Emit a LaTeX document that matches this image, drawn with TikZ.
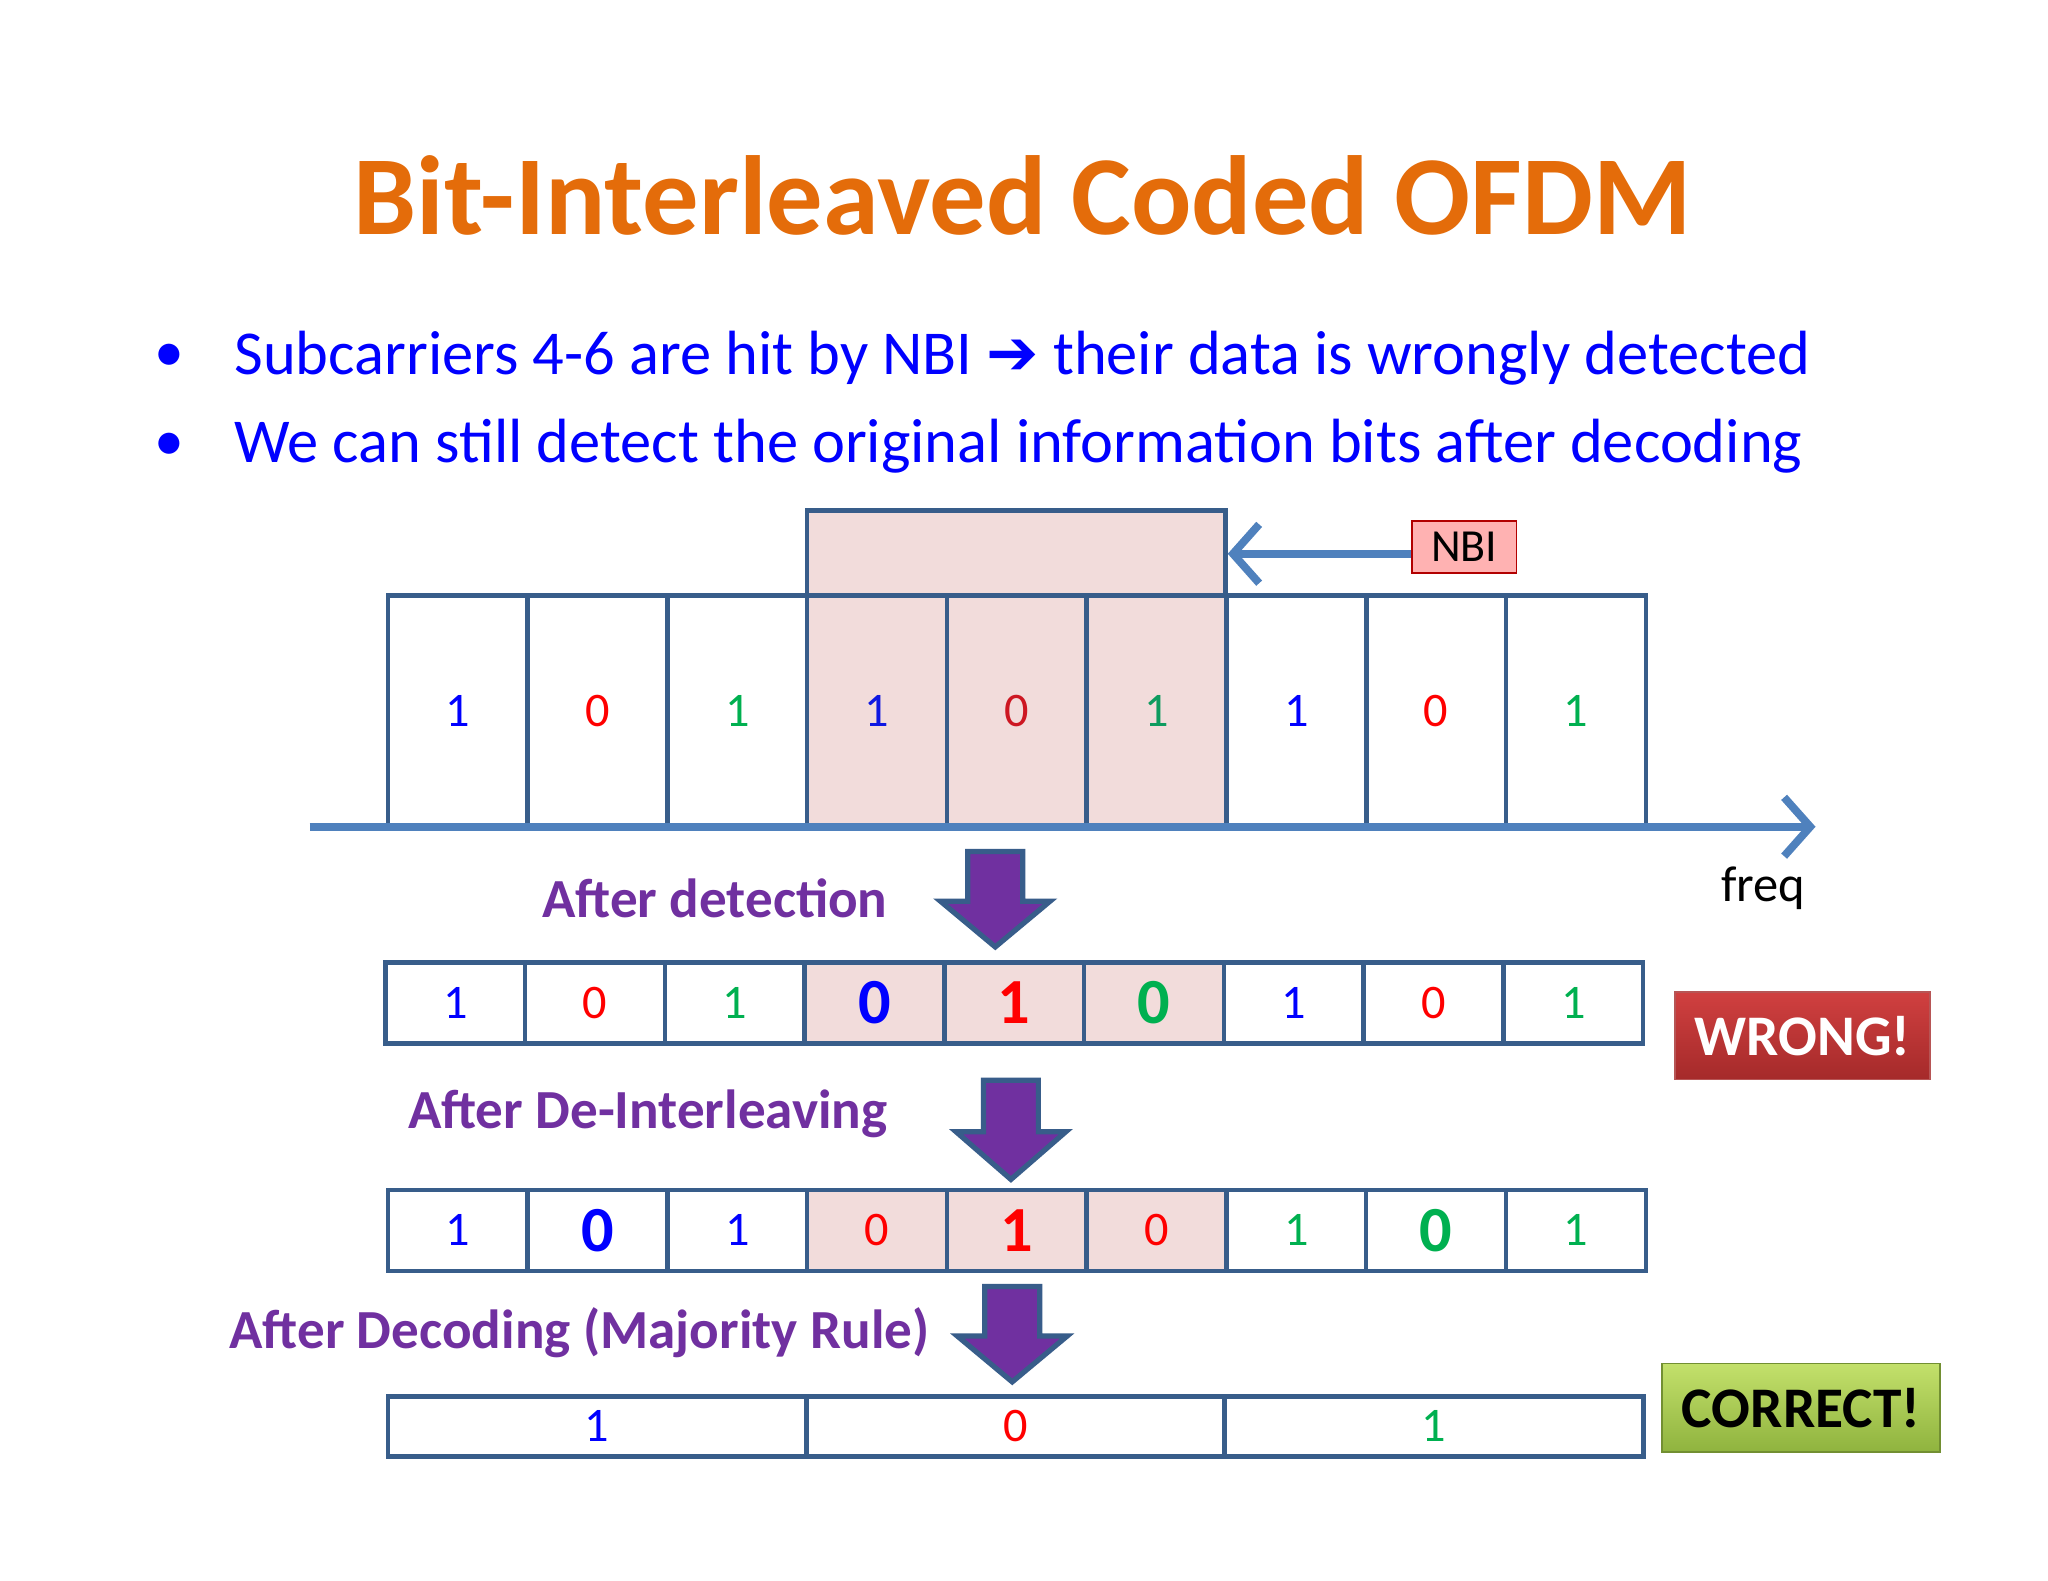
\documentclass[tikz,border=0pt]{standalone}
\usepackage{fontspec}
\setmainfont{Carlito}
\newfontfamily\djv{DejaVu Sans}
\usetikzlibrary{arrows.meta}
\definecolor{frame}{HTML}{385D8A}
\definecolor{shade}{HTML}{F2DCDB}
\definecolor{tblue}{HTML}{0000FF}
\definecolor{tred}{HTML}{FF0000}
\definecolor{tgreen}{HTML}{00B050}
\definecolor{tpurple}{HTML}{7030A0}
\definecolor{torange}{HTML}{E46C0A}
\definecolor{axis}{HTML}{4F81BD}
\definecolor{wtop}{HTML}{D04040}
\definecolor{wbot}{HTML}{A52A2A}
\definecolor{ctop}{HTML}{C3E06B}
\definecolor{cbot}{HTML}{8FB33E}
\begin{document}
\begin{tikzpicture}[x=0.01cm,y=-0.01cm,
  cell/.style={draw=frame,line width=0.35mm,minimum width=1.07cm,inner sep=0pt,outer sep=0pt,anchor=north west},
  dig/.style={font=\fontsize{10.5}{12}\selectfont},
  big/.style={font=\fontsize{14}{16}\selectfont\bfseries},
  lab/.style={text=tpurple,font=\fontsize{12}{15}\selectfont\bfseries,anchor=east},
  darrow/.style={fill=tpurple,draw=frame,line width=0.4mm},
  bul/.style={text=tblue,font=\fontsize{13.6}{16}\selectfont,anchor=west}]
\useasboundingbox (0,0) rectangle (1568,1210);
\fill[white] (0,0) rectangle (1568,1210);
\node[text=torange,font=\fontsize{24.5}{30}\selectfont\bfseries] (title) at (783,150) {Bit-Interleaved Coded OFDM};
\node[text=tblue,font=\fontsize{13}{16}\selectfont] (b1) at (130,274) {•};
\node[text=tblue,font=\fontsize{13}{16}\selectfont] (b2) at (130,342) {•};
\node[bul] (t1) at (167,274) {Subcarriers 4-6 are hit by NBI {\djv\bfseries ➔} their data is wrongly detected};
\node[bul] (t2) at (167,342) {We can still detect the original information bits after decoding};
% shaded top region
\node[cell,fill=shade,minimum width=3.2cm,minimum height=0.65cm] (top) at (618,391) {};
% row 1
\foreach \i/\d/\c in {1/1/tblue,2/0/tred,3/1/tgreen,4/1/tblue,5/0/tred,6/1/tgreen,7/1/tblue,8/0/tred,9/1/tgreen}{
  \pgfmathsetmacro{\xx}{297+107*(\i-1)}
  \ifnum\i>3 \ifnum\i<7
    \node[cell,fill=shade,minimum height=1.77cm] (r1c\i) at (\xx,456) {};
    \node[dig,text=\c!75!frame] (r1d\i) at (r1c\i.center) {\d};
  \else
    \node[cell,minimum height=1.77cm] (r1c\i) at (\xx,456) {};
    \node[dig,text=\c] (r1d\i) at (r1c\i.center) {\d};
  \fi\else
    \node[cell,minimum height=1.77cm] (r1c\i) at (\xx,456) {};
    \node[dig,text=\c] (r1d\i) at (r1c\i.center) {\d};
  \fi}
\draw[axis,line width=0.6mm,-{Straight Barb[length=2mm,width=4.5mm,line width=0.6mm]}] (237,633) -- (1390,633);
\node[font=\fontsize{11}{13}\selectfont] (freq) at (1350,680) {freq};
\node[draw=red!70!black,fill=red!30,minimum width=0.8cm,minimum height=0.4cm,inner sep=0pt,font=\fontsize{10}{12}\selectfont] (nbi) at (1121,419) {\raisebox{-1.5mm}{NBI}};
\coordinate (hit) at (940,424);
\draw[axis,line width=0.6mm,-{Straight Barb[length=2mm,width=4.5mm,line width=0.6mm]}] (nbi.west|-hit) -- (hit);
% arrows
\foreach \n/\cx/\ya/\yb in {a1/762/652/725,a2/774/827/903,a3/775/985/1058}{
  \draw[darrow] (\cx-21,\ya) -- (\cx+21,\ya) -- (\cx+21,\ya+0.52*\yb-0.52*\ya) -- (\cx+42,\ya+0.52*\yb-0.52*\ya) -- (\cx,\yb) -- (\cx-42,\ya+0.52*\yb-0.52*\ya) -- (\cx-21,\ya+0.52*\yb-0.52*\ya) -- cycle;}
\node[lab] (l1) at (692,688) {After detection};
\node[lab] (l2) at (692,853) {After De-Interleaving};
\node[lab] (l3) at (724,1020) {After Decoding (Majority Rule)};
% row 2
\foreach \i/\d/\c/\s/\f in {1/1/tblue/dig/white,2/0/tred/dig/white,3/1/tgreen/dig/white,4/0/tblue/big/shade,5/1/tred/big/shade,6/0/tgreen/big/shade,7/1/tblue/dig/white,8/0/tred/dig/white,9/1/tgreen/dig/white}{
  \pgfmathsetmacro{\xx}{295+107*(\i-1)}
  \node[cell,fill=\f,minimum height=0.62cm] (r2c\i) at (\xx,737) {};
  \node[\s,text=\c] (r2d\i) at (r2c\i.center) {\d};}
% row 3
\foreach \i/\d/\c/\s/\f in {1/1/tblue/dig/white,2/0/tblue/big/white,3/1/tblue/dig/white,4/0/tred/dig/shade,5/1/tred/big/shade,6/0/tred/dig/shade,7/1/tgreen/dig/white,8/0/tgreen/big/white,9/1/tgreen/dig/white}{
  \pgfmathsetmacro{\xx}{297+107*(\i-1)}
  \node[cell,fill=\f,minimum height=0.62cm] (r3c\i) at (\xx,911) {};
  \node[\s,text=\c] (r3d\i) at (r3c\i.center) {\d};}
% row 4
\foreach \i/\d/\c in {1/1/tblue,2/0/tred,3/1/tgreen}{
  \pgfmathsetmacro{\xx}{297+320.3*(\i-1)}
  \node[cell,minimum width=3.203cm,minimum height=0.46cm] (r4c\i) at (\xx,1069) {};
  \node[font=\fontsize{10.5}{12}\selectfont,text=\c] (r4d\i) at (r4c\i.center) {\d};}
% badges
\node[draw=wbot!80,top color=wtop,bottom color=wbot,minimum width=1.95cm,minimum height=0.67cm,text=white,font=\fontsize{12.5}{15}\selectfont\bfseries] (wrong) at (1380,793) {WRONG!};
\node[draw=cbot!80!black,top color=ctop,bottom color=cbot,minimum width=2.13cm,minimum height=0.68cm,font=\fontsize{12.5}{15}\selectfont\bfseries] (correct) at (1379,1078) {CORRECT!};
\end{tikzpicture}
\end{document}
